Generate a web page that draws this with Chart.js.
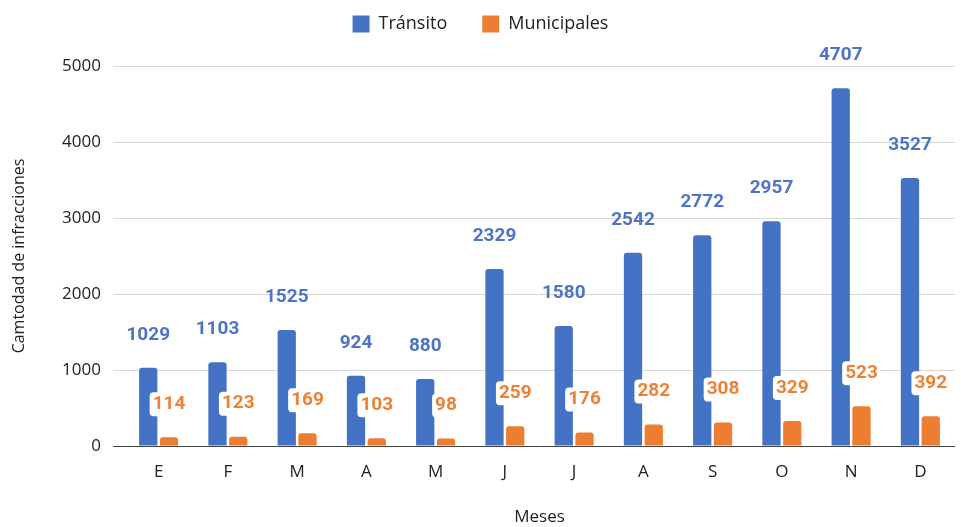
<!DOCTYPE html>
<html>
<head>
<meta charset="utf-8">
<script src="https://cdn.jsdelivr.net/npm/chart.js@4.4.1/dist/chart.umd.min.js"></script>
<style>
  body { margin: 0; background: #fff; }
</style>
</head>
<body>
<canvas id="chart" width="961" height="527"></canvas>
<script>
const months = ['E', 'F', 'M', 'A', 'M', 'J', 'J', 'A', 'S', 'O', 'N', 'D'];
const transito = [1029, 1103, 1525, 924, 880, 2329, 1580, 2542, 2772, 2957, 4707, 3527];
const municipales = [114, 123, 169, 103, 98, 259, 176, 282, 308, 329, 523, 392];
const yTicks = [0, 1000, 2000, 3000, 4000, 5000];

const FONT = "'Open Sans', sans-serif";

// push the plot down below the legend
const legendMargin = {
  id: 'legendMargin',
  beforeInit(chart) {
    const fit = chart.legend.fit;
    chart.legend.fit = function () {
      fit.bind(chart.legend)();
      this.height += 23;
    };
  }
};

// numbers above the bars
const valueLabels = {
  id: 'valueLabels',
  afterDatasetsDraw(chart) {
    const ctx = chart.ctx;
    chart.data.datasets.forEach((ds, i) => {
      const meta = chart.getDatasetMeta(i);
      meta.data.forEach((bar, j) => {
        const text = String(ds.data[j]);
        const x = bar.x;
        const y = bar.y - 33;
        ctx.save();
        ctx.font = "bold 19px Roboto, sans-serif";
        ctx.textAlign = 'center';
        ctx.textBaseline = 'middle';
        if (ds.labelBg) {
          const w = ctx.measureText(text).width;
          ctx.fillStyle = '#fff';
          ctx.beginPath();
          ctx.roundRect(x - w / 2 - 3, y - 12, w + 6, 24, 4);
          ctx.fill();
        }
        ctx.fillStyle = ds.labelColor;
        ctx.fillText(text, x, y);
        ctx.restore();
      });
    });
  }
};

new Chart(document.getElementById('chart'), {
  type: 'bar',
  data: {
    labels: months,
    datasets: [
      {
        label: 'Tránsito',
        data: transito,
        backgroundColor: '#4472C4',
        borderRadius: { topLeft: 3, topRight: 3 },
        borderSkipped: 'start',
        labelColor: '#4d74c6',
        labelBg: false,
        barPercentage: 0.88,
        categoryPercentage: 0.6
      },
      {
        label: 'Municipales',
        data: municipales,
        backgroundColor: '#ED7D31',
        borderRadius: { topLeft: 3, topRight: 3 },
        borderSkipped: 'start',
        labelColor: '#ef8137',
        labelBg: true,
        barPercentage: 0.88,
        categoryPercentage: 0.6
      }
    ]
  },
  options: {
    responsive: false,
    animation: false,
    layout: { padding: { top: -20, left: 6, right: 6, bottom: 0 } },
    plugins: {
      legend: {
        position: 'top',
        labels: {
          boxWidth: 17,
          boxHeight: 17,
          padding: 35,
          color: '#222',
          font: { family: FONT, size: 18 }
        }
      },
      tooltip: { enabled: false }
    },
    scales: {
      x: {
        grid: { display: false },
        border: { display: false },
        ticks: { color: '#222', padding: 8, font: { family: FONT, size: 17 } },
        title: {
          display: true,
          text: 'Meses',
          color: '#222',
          padding: { top: 0, bottom: 0 },
          font: { family: FONT, size: 17 }
        },
        afterFit(scale) { scale.height = 81; }
      },
      y: {
        min: 0,
        max: 5000,
        border: { display: false },
        grid: {
          color: ctx => (ctx.tick && ctx.tick.value === 0 ? '#444' : '#d6d6d6'),
          tickLength: 11
        },
        afterBuildTicks(scale) { scale.ticks = yTicks.map(v => ({ value: v })); },
        ticks: {
          color: '#222',
          padding: 12,
          font: { family: FONT, size: 17 },
          callback: v => String(v)
        },
        title: {
          display: true,
          text: 'Camtodad de infracciones',
          color: '#222',
          padding: { top: 4, bottom: 4 },
          font: { family: FONT, size: 16 }
        },
        afterFit(scale) { scale.width = 118; }
      }
    }
  },
  plugins: [legendMargin, valueLabels]
});
</script>
</body>
</html>
